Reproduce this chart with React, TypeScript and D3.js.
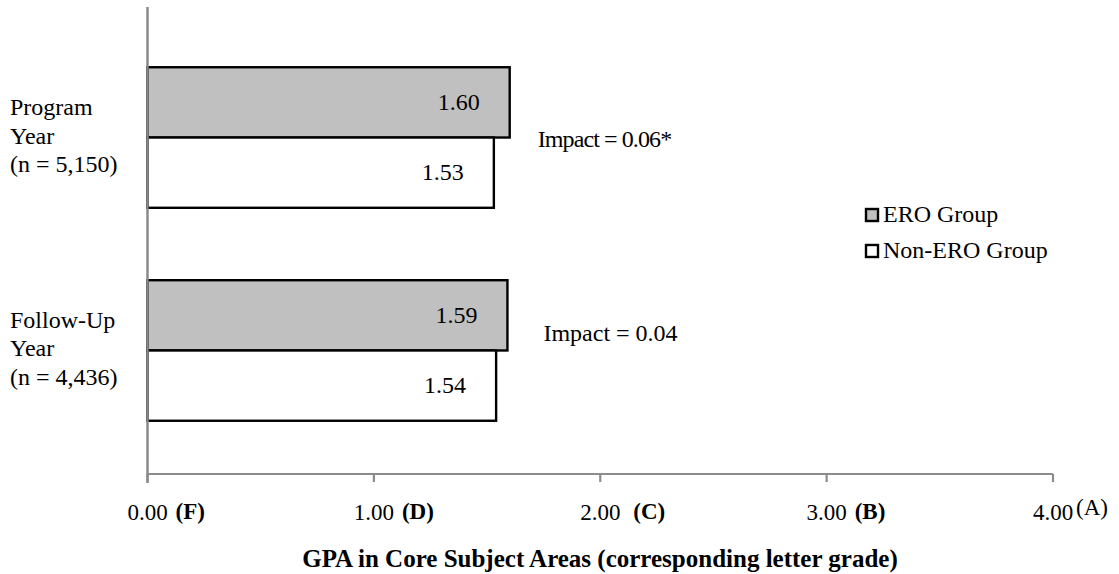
import * as d3 from "d3";

// chart data
const categories = ["Program Year", "Follow-Up Year"];
const categoryLines = [
  ["Program", "Year", "(n = 5,150)"],
  ["Follow-Up", "Year", "(n = 4,436)"],
];
const seriesNames = ["ERO Group", "Non-ERO Group"];
const eroValues = [1.6, 1.59];
const nonEroValues = [1.53, 1.54];
const impactLabels = ["Impact = 0.06*", "Impact = 0.04"];
const xTicks = [0, 1, 2, 3, 4];
const gradeLabels = ["(F)", "(D)", "(C)", "(B)", "(A)"];
const axisTitle = "GPA in Core Subject Areas (corresponding letter grade)";

const W = 1119;
const H = 574;
const FONT = "'Liberation Serif', 'Times New Roman', serif";
const fills = ["#c0c0c0", "#ffffff"];

export default function App() {
  const x = d3.scaleLinear().domain([0, 4]).range([147.5, 1053]);
  const y = d3
    .scaleBand<string>()
    .domain(categories)
    .range([14, 474])
    .paddingInner(0.34)
    .paddingOuter(0.25);
  const sub = d3.scaleBand<string>().domain(seriesNames).range([0, y.bandwidth()]);
  const fmt = d3.format(".2f");
  const axisY = 474;

  const series = [eroValues, nonEroValues];

  return (
    <div style={{ position: "absolute", left: 0, top: 0 }}>
      <svg width={W} height={H} style={{ display: "block", background: "#fff" }} fontFamily={FONT}>
        {/* bars */}
        {categories.map((c, ci) => (
          <g key={c}>
            {seriesNames.map((s, si) => {
              const v = series[si][ci];
              const y0 = (y(c) ?? 0) + (sub(s) ?? 0);
              return (
                <g key={s}>
                  <rect
                    x={x(0)}
                    y={y0}
                    width={x(v) - x(0)}
                    height={sub.bandwidth()}
                    fill={fills[si]}
                    stroke="#000"
                    strokeWidth={2.4}
                  />
                  <text
                    x={x(v) - 30}
                    y={y0 + sub.bandwidth() / 2}
                    dy="0.32em"
                    textAnchor="end"
                    fontSize={24}
                  >
                    {fmt(v)}
                  </text>
                </g>
              );
            })}
            {/* impact note, first one is set a bit tighter in the original */}
            <text
              x={x(eroValues[ci]) + (ci === 0 ? 28 : 36)}
              y={(y(c) ?? 0) + sub.bandwidth() + (ci === 0 ? 9 : -9)}
              fontSize={24}
              letterSpacing={ci === 0 ? -0.9 : 0}
            >
              {impactLabels[ci]}
            </text>
            <text x={10} y={(y(c) ?? 0) + y.bandwidth() / 2 - 22.5} fontSize={24}>
              {categoryLines[ci].map((ln, li) => (
                <tspan key={li} x={10} dy={li === 0 ? 0 : 28.5}>
                  {ln}
                </tspan>
              ))}
            </text>
          </g>
        ))}

        {/* axes */}
        <line x1={x(0)} x2={x(0)} y1={7} y2={483} stroke="#878787" strokeWidth={2.4} />
        <line x1={x(0)} x2={x(4)} y1={axisY} y2={axisY} stroke="#8c8c8c" strokeWidth={2.2} />
        {xTicks.map((t, i) => (
          <g key={t}>
            <line x1={x(t)} x2={x(t)} y1={axisY} y2={axisY + 8} stroke="#8c8c8c" strokeWidth={2.2} />
            <text x={x(t)} y={520} textAnchor="middle" fontSize={23}>
              {fmt(t)}
            </text>
            <text
              x={x(t) + (i === 2 ? 33 : i === 4 ? 23 : 28)}
              y={i === 4 ? 515 : 519}
              fontSize={23}
              fontWeight={i < 4 ? "bold" : "normal"}
            >
              {gradeLabels[i]}
            </text>
          </g>
        ))}
        <text x={600} y={567} textAnchor="middle" fontSize={25} fontWeight="bold">
          {axisTitle}
        </text>

        {/* legend */}
        {seriesNames.map((s, i) => (
          <g key={s} transform={`translate(866, ${209 + i * 36})`}>
            <rect x={0} y={0} width={12} height={12} fill={fills[i]} stroke="#000" strokeWidth={2.4} />
            <text x={17} y={13} fontSize={24}>
              {s}
            </text>
          </g>
        ))}
      </svg>
    </div>
  );
}
